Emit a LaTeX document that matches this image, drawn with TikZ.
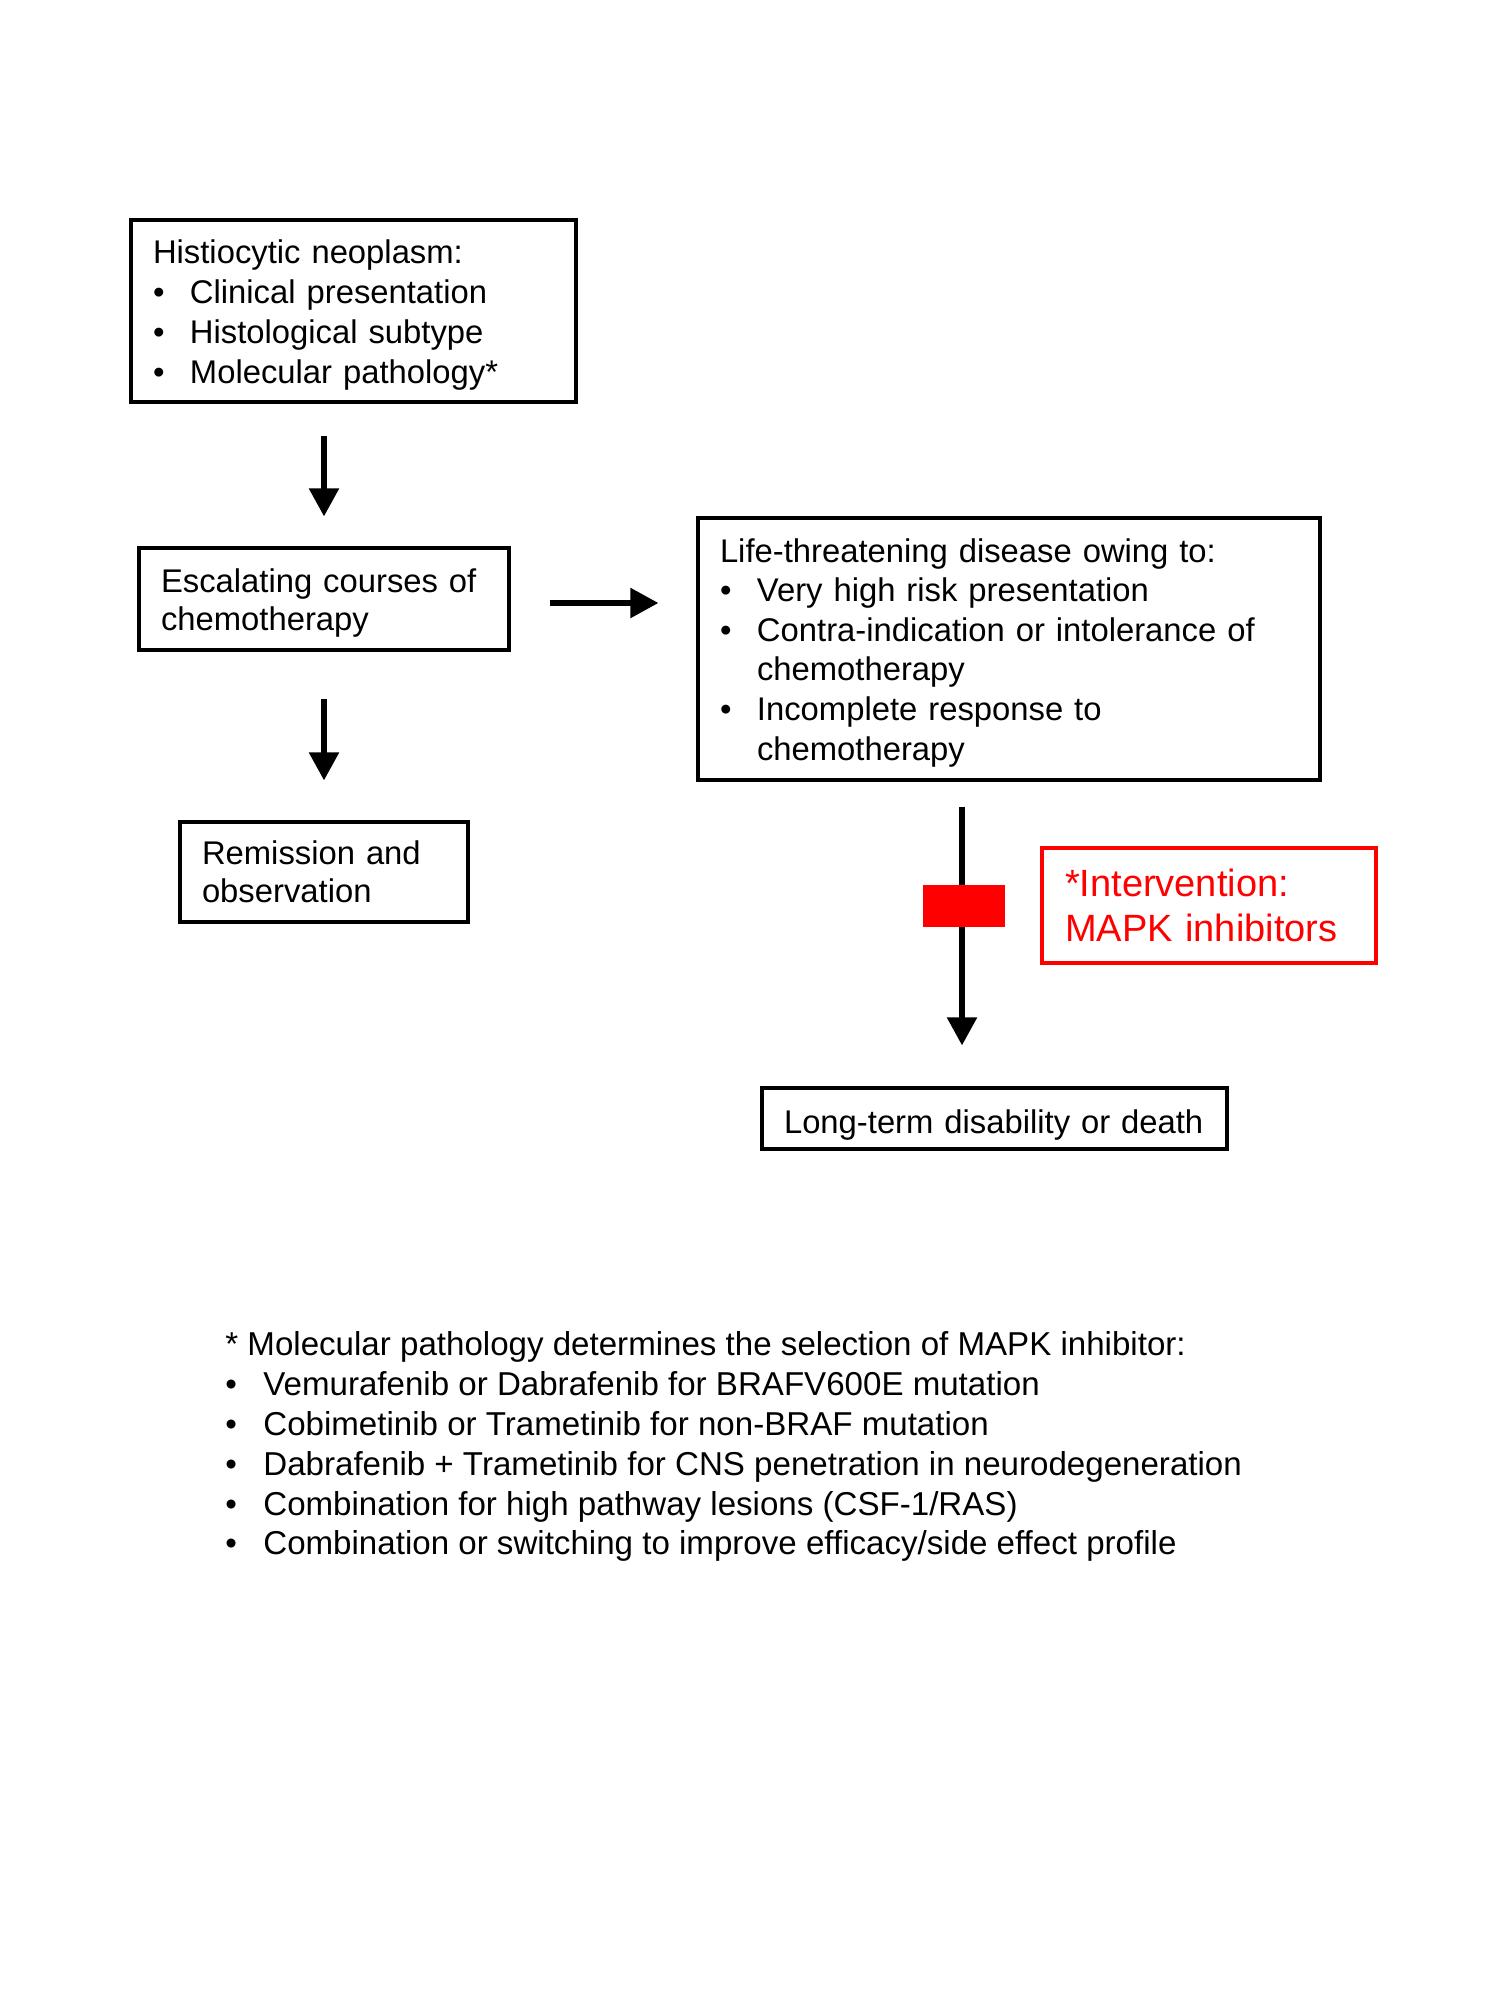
\documentclass[tikz,border=0pt]{standalone}
\usepackage{fontspec}
\setmainfont{Liberation Sans}
\usetikzlibrary{arrows.meta}
\newcommand\bul{\makebox[18.5pt][l]{•}}
\newcommand\ind{\hspace*{18.5pt}}
\newcommand\fbul{\makebox[19pt][l]{•}}
\newcommand\tstrut{\rule{0pt}{15.5pt}}
\begin{document}
\begin{tikzpicture}[x=0.5pt,y=-0.5pt,
  box/.style={draw=black, line width=1.6pt, inner xsep=11pt, inner ysep=0pt,
    align=left, font=\fontsize{16.4pt}{19.75pt}\selectfont},
  redbox/.style={draw=red, text=red, line width=1.6pt, inner xsep=11.5pt, inner ysep=0pt,
    align=left, font=\fontsize{19pt}{22.5pt}\selectfont},
  arr/.style={line width=2.7pt, -{Triangle[length=14pt,width=14.5pt]}},
  ]
\fill[white] (0,0) rectangle (1500,2000);
\useasboundingbox (0,0) rectangle (1500,2000);

\node[box, font=\fontsize{16.4pt}{20pt}\selectfont, minimum width=222.5pt, minimum height=91pt, text width=200.5pt] (b1) at (353.5,311)
  {\tstrut Histiocytic neoplasm:\\ \bul Clinical presentation\\ \bul Histological subtype\\ \bul Molecular pathology*};

\node[box, font=\fontsize{16.4pt}{19pt}\selectfont, minimum width=185pt, minimum height=51pt, text width=163pt] (b2) at (324,599)
  {\tstrut Escalating courses of\\ chemotherapy};

\node[box, font=\fontsize{16.4pt}{19pt}\selectfont, minimum width=144pt, minimum height=50pt, text width=122pt] (b3) at (324,872)
  {Remission and\\ observation};

\node[box, font=\fontsize{16.4pt}{19.8pt}\selectfont, minimum width=311pt, minimum height=131pt, text width=289pt] (b4) at (1009,649)
  {\tstrut Life-threatening disease owing to:\\ \bul Very high risk presentation\\ \bul Contra-indication or intolerance of\\ \ind chemotherapy\\ \bul Incomplete response to\\ \ind chemotherapy};

\node[box, text height=14.5pt, text depth=0pt, minimum width=232.5pt, minimum height=30.5pt, text width=210.5pt] (b5) at (994.5,1118.5)
  {Long-term disability or death};

\node[redbox, minimum width=167pt, minimum height=57.5pt, text width=144pt] (rb) at (1209,905.5)
  {*Intervention:\\ MAPK inhibitors};

\coordinate (v1) at (324,0);
\coordinate (h1) at (0,603);
\coordinate (v3) at (962,0);

\draw[arr, shorten <=16pt, shorten >=15pt] (b1.south -| v1) -- (b2.north -| v1);
\draw[arr, shorten <=19.5pt, shorten >=19pt] (b2.east |- h1) -- (b4.west |- h1);
\draw[arr, shorten <=23.5pt, shorten >=20pt] (b2.south -| v1) -- (b3.north -| v1);
\draw[arr, shorten <=12.5pt, shorten >=20.5pt] (b4.south -| v3) -- (b5.north -| v3);

\node[fill=red, minimum width=41pt, minimum height=21pt, inner sep=0pt] (blk) at (964,906) {};

\node[anchor=north west, inner sep=0pt, align=left, font=\fontsize{16.55pt}{19.9pt}\selectfont] (fn) at (225,1331.5)
  {* Molecular pathology determines the selection of MAPK inhibitor:\\
   \fbul Vemurafenib or Dabrafenib for BRAFV600E mutation\\
   \fbul Cobimetinib or Trametinib for non-BRAF mutation\\
   \fbul Dabrafenib + Trametinib for CNS penetration in neurodegeneration\\
   \fbul Combination for high pathway lesions (CSF-1/RAS)\\
   \fbul Combination or switching to improve efficacy/side effect profile};
\end{tikzpicture}
\end{document}
